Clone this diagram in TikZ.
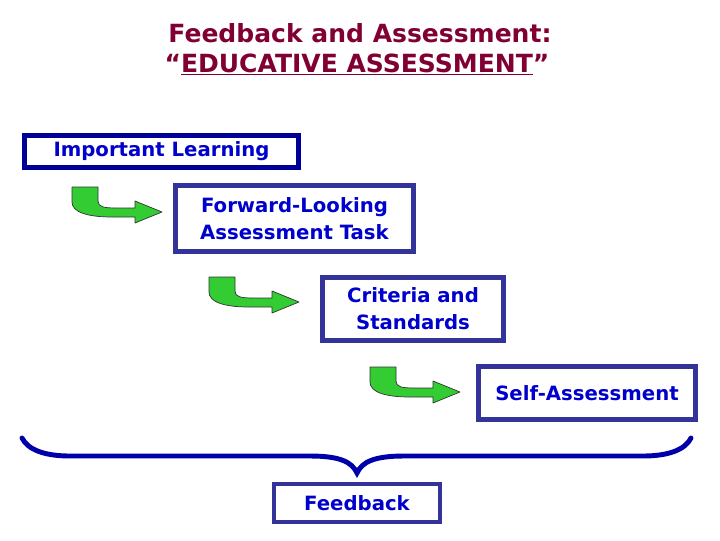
\documentclass[tikz,border=0pt]{standalone}
\usepackage{fontspec}
\setmainfont{DejaVu Sans}
\usetikzlibrary{positioning}

\definecolor{titlered}{RGB}{128,0,51}
\definecolor{textblue}{RGB}{0,0,204}
\definecolor{navyline}{RGB}{0,0,153}
\definecolor{boxline}{RGB}{51,51,153}
\definecolor{arrowgreen}{RGB}{51,204,51}
\definecolor{bracecol}{RGB}{0,0,170}

\tikzset{
  stagebox/.style={draw=boxline, line width=3.5pt, fill=white, inner sep=0pt,
    text=textblue, align=center,
    font=\bfseries\fontsize{14}{19}\selectfont},
  greenarrow/.style={fill=arrowgreen, draw=black!80, line width=0.5pt, line join=round},
}

\begin{document}
\begin{tikzpicture}[x=0.025cm, y=-0.025cm]
			\useasboundingbox (0,0) rectangle (720,540);
			
			% Title
			\node[titlered, anchor=base, font=\bfseries\fontsize{17.8}{22}\selectfont] (title) at (360,42) {Feedback and Assessment:};
			\node[titlered, anchor=base, font=\bfseries\fontsize{17.8}{22}\selectfont] (subtitle) at (357,72) {“\underline{EDUCATIVE ASSESSMENT}”};
			
			% Stages
			\node[stagebox, draw=navyline, minimum width=6.85cm, minimum height=0.8cm] (learning) at (161.5,151.5) {Important Learning};
			\node[stagebox, minimum width=5.95cm, minimum height=1.65cm] (task) at (294.5,218.5) {Forward-Looking\\Assessment Task};
			\node[stagebox, minimum width=4.525cm, minimum height=1.575cm] (criteria) at (413,309) {Criteria and\\Standards};
			\node[stagebox, minimum width=5.425cm, minimum height=1.325cm] (selfassess) at (587,393) {Self-Assessment};
			
			% Green arrows
			\begin{scope}[shift={(72,187)}]
				\draw[greenarrow] (0,0) -- (26,0) -- (26,14)
				.. controls (26,20) and (32,21) .. (45,21) -- (63,21) -- (63,14) -- (90,25) -- (63,36) -- (63,30) -- (40,30)
				.. controls (15,30) and (0,25) .. (0,15) -- cycle;
			\end{scope}
			\begin{scope}[shift={(209,277)}]
				\draw[greenarrow] (0,0) -- (26,0) -- (26,14)
				.. controls (26,20) and (32,21) .. (45,21) -- (63,21) -- (63,14) -- (90,25) -- (63,36) -- (63,30) -- (40,30)
				.. controls (15,30) and (0,25) .. (0,15) -- cycle;
			\end{scope}
			\begin{scope}[shift={(370,367)}]
				\draw[greenarrow] (0,0) -- (26,0) -- (26,14)
				.. controls (26,20) and (32,21) .. (45,21) -- (63,21) -- (63,14) -- (90,25) -- (63,36) -- (63,30) -- (40,30)
				.. controls (15,30) and (0,25) .. (0,15) -- cycle;
			\end{scope}
			
			% Brace
			\coordinate (braceleft) at (22,438);
			\coordinate (bracetip) at (357,473);
			\coordinate (braceright) at (691,438);
			\draw[bracecol, line width=3.5pt, line cap=round] (braceleft)
			.. controls (28,450) and (45,456) .. (70,456) -- (310,456)
			.. controls (340,456) and (352,462) .. (bracetip)
			.. controls (362,462) and (374,456) .. (404,456) -- (643,456)
			.. controls (668,456) and (685,450) .. (braceright);
			
			% Feedback
			\node[stagebox, line width=3pt, minimum width=4.15cm, minimum height=0.95cm, below=0.22cm of bracetip] (feedback) {Feedback};
		\end{tikzpicture}
\end{document}
